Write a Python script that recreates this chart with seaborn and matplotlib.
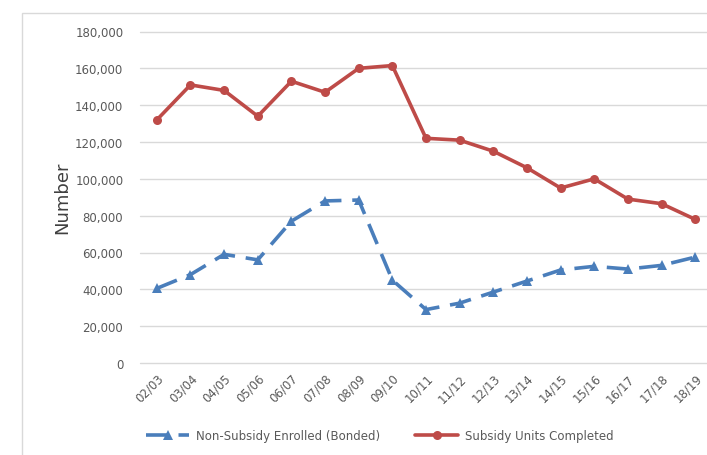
import matplotlib
matplotlib.use("Agg")
import matplotlib.pyplot as plt
import seaborn as sns
import pandas as pd
import numpy as np
from matplotlib.ticker import FuncFormatter
from matplotlib.patches import Rectangle

years = ["02/03", "03/04", "04/05", "05/06", "06/07", "07/08", "08/09", "09/10",
         "10/11", "11/12", "12/13", "13/14", "14/15", "15/16", "16/17", "17/18", "18/19"]
non_subsidy = [40500, 48000, 59000, 56000, 77000, 88000, 88500, 45000,
               29000, 32500, 38500, 44500, 50500, 52500, 51000, 53000, 57500]
subsidy = [132000, 151000, 148000, 134000, 153000, 147000, 160000, 161500,
           122000, 121000, 115000, 106000, 95000, 100000, 89000, 86500, 78000]
series_names = ["Non-Subsidy Enrolled (Bonded)", "Subsidy Units Completed"]

sns.set_theme(style="white")
plt.rcParams['font.family'] = ['DejaVu Sans']

fig = plt.figure(figsize=(7.07, 4.56), dpi=100)
fig.patches.append(Rectangle((22/707, -0.1), 1.0, 1 - 14/456 + 0.1, transform=fig.transFigure,
                             fill=False, edgecolor="#d9d9d9", linewidth=1.0))
ax = fig.add_axes([140/707, 1 - 364/456, 572/707, (364 - 32.5)/456])

df = pd.DataFrame({"idx": np.arange(len(years)), "non": non_subsidy, "sub": subsidy})

blue = "#4a7ebb"
red = "#be4b48"
sns.lineplot(data=df, x="idx", y="non", ax=ax, color=blue, linewidth=2.6,
             marker="^", markersize=7, markeredgewidth=0,
             label=series_names[0])
ax.lines[-1].set_dashes([6, 3])
sns.lineplot(data=df, x="idx", y="sub", ax=ax, color=red, linewidth=2.6,
             marker="o", markersize=6.5, markeredgewidth=0,
             label=series_names[1])

ax.set_xlim(-0.5, 16.5)
ax.set_ylim(0, 180000)
ax.set_yticks(np.arange(0, 180001, 20000))
ax.yaxis.set_major_formatter(FuncFormatter(lambda v, p: f"{int(v):,}"))
ax.set_xticks(np.arange(len(years)))
ax.set_xticklabels(years, rotation=45, ha="right", rotation_mode="anchor")
ax.tick_params(axis="both", colors="#595959", labelsize=8.5, length=0)
ax.tick_params(axis="x", pad=6)
ax.tick_params(axis="y", pad=12)
ax.grid(axis="y", color="#d9d9d9", linewidth=1.0)
for gl in ax.get_ygridlines():
    gl.set_clip_on(False)
ax.set_axisbelow(True)
for s in ax.spines.values():
    s.set_visible(False)
ax.set_xlabel("")
ax.set_ylabel("Number", fontsize=13, color="#404040", labelpad=3)

handles, labels = ax.get_legend_handles_labels()
leg = ax.legend(handles, labels, loc="center", ncol=2, frameon=False, fontsize=8.5,
                handlelength=3.6, handletextpad=0.6, columnspacing=3.0, labelcolor="#595959")
leg.set_bbox_to_anchor((380/707, 1 - 437/456), transform=fig.transFigure)

fig.savefig("out.png", dpi=100)
